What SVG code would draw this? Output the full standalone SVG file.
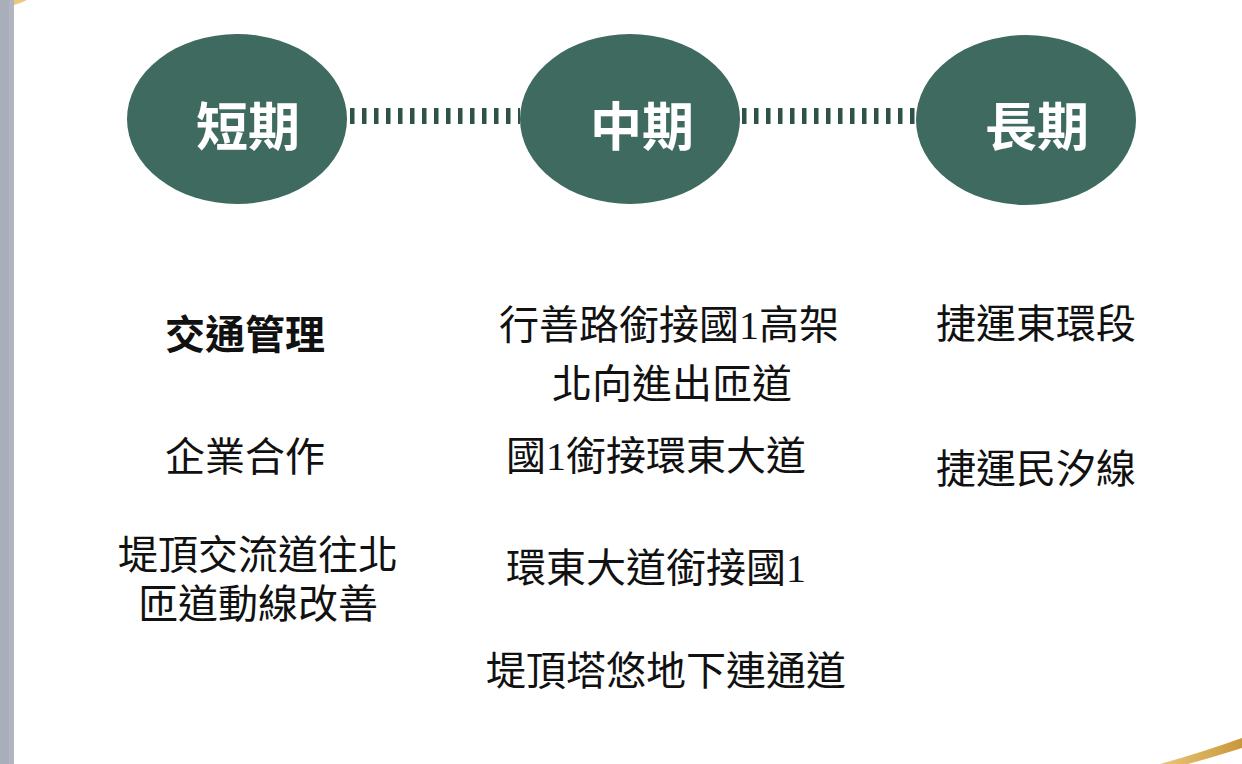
<svg xmlns="http://www.w3.org/2000/svg" width="1242" height="764" viewBox="0 0 1242 764">
  <defs>
    <linearGradient id="gold" x1="0" y1="0" x2="1" y2="0">
      <stop offset="0" stop-color="#e9c77a"/>
      <stop offset="1" stop-color="#c9973a"/>
    </linearGradient>
  </defs>
  <style>
    .stage { fill: #3f6a5f; }
    .stage-label { font-family: "Noto Sans CJK TC", "Noto Sans CJK SC", sans-serif; font-size: 52px; font-weight: 700; fill: #ffffff; }
    .item { font-family: "Noto Sans CJK TC", "Noto Sans CJK SC", sans-serif; font-size: 40px; fill: #111111; }
    .bold { font-weight: 700; }
    .num { font-family: "Liberation Serif", "Noto Sans CJK TC", serif; }
    .link { stroke: #2e5148; stroke-width: 16; stroke-dasharray: 4.5 7.5; fill: none; }
  </style>
  <rect x="0" y="0" width="1242" height="764" fill="#ffffff"/>
  <rect x="0" y="0" width="14" height="764" fill="#a9aebb"/>
  <rect x="9" y="0" width="5" height="764" fill="#b0b5c0"/>
  <path d="M14,0 L27,0 Q21,3 14,5 Z" fill="#e8c97e"/>
  <path d="M1160,764 Q1200,753 1242,738 L1242,748 Q1210,758 1188,764 Z" fill="url(#gold)"/>

  <g id="connectors">
    <line class="link" x1="350" y1="116" x2="520" y2="116"/>
    <line class="link" x1="742" y1="116" x2="916" y2="116"/>
  </g>

  <g id="node-short">
    <ellipse class="stage" cx="237" cy="119" rx="110" ry="85"/>
    <text class="stage-label" x="248" y="146" text-anchor="middle">短期</text>
  </g>
  <g id="node-mid">
    <ellipse class="stage" cx="630" cy="119" rx="110" ry="85"/>
    <text class="stage-label" x="642" y="146" text-anchor="middle">中期</text>
  </g>
  <g id="node-long">
    <ellipse class="stage" cx="1026" cy="120" rx="110" ry="85"/>
    <text class="stage-label" x="1037" y="146" text-anchor="middle">長期</text>
  </g>

  <g id="items-short">
    <text class="item bold" x="245" y="349" text-anchor="middle">交通管理</text>
    <text class="item" x="245" y="471" text-anchor="middle">企業合作</text>
    <text class="item" text-anchor="middle"><tspan x="258" y="569">堤頂交流道往北</tspan><tspan x="258" y="618">匝道動線改善</tspan></text>
  </g>

  <g id="items-mid">
    <text class="item"><tspan x="499" y="339">行善路銜接國<tspan class="num">1</tspan>高架</tspan><tspan x="672" y="398" text-anchor="middle">北向進出匝道</tspan></text>
    <text class="item" x="506" y="470">國<tspan class="num">1</tspan>銜接環東大道</text>
    <text class="item" x="506" y="582">環東大道銜接國<tspan class="num">1</tspan></text>
    <text class="item" x="486" y="685">堤頂塔悠地下連通道</text>
  </g>

  <g id="items-long">
    <text class="item" x="936" y="338">捷運東環段</text>
    <text class="item" x="936" y="483">捷運民汐線</text>
  </g>
</svg>
